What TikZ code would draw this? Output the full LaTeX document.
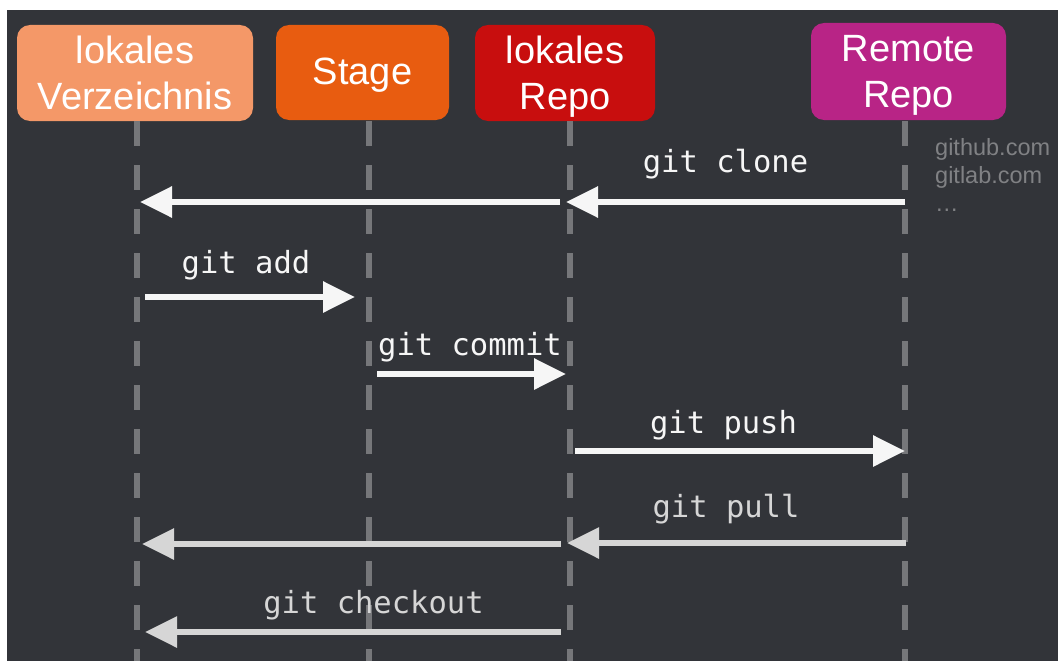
\documentclass[tikz,border=0pt]{standalone}
\usepackage{fontspec}
\setmainfont{Liberation Sans}
\newfontfamily\codefont{DejaVu Sans Mono}
\usetikzlibrary{arrows.meta}
\definecolor{bgdark}{RGB}{50,52,57}
\definecolor{cverz}{RGB}{244,152,104}
\definecolor{cstage}{RGB}{232,92,16}
\definecolor{crepo}{RGB}{200,14,14}
\definecolor{cremote}{RGB}{184,36,134}
\definecolor{lifegray}{RGB}{118,119,122}
\definecolor{arrwhite}{RGB}{246,246,246}
\definecolor{arrgray}{RGB}{214,214,214}
\definecolor{sidegray}{RGB}{128,129,132}
\tikzset{
  box/.style={draw=none, rounded corners=13pt, inner sep=0pt, text=white, align=center,
    font=\fontsize{38}{46}\selectfont},
  lifeline/.style={draw=lifegray, line width=6pt, dash pattern=on 25pt off 19pt},
  msg/.style={draw=arrwhite, line width=6pt, -{Triangle[length=32pt,width=30pt,fill=arrwhite]}},
  msggray/.style={draw=arrgray, line width=6pt, -{Triangle[length=32pt,width=30pt,fill=arrgray]}},
  cmd/.style={anchor=base, inner sep=0pt, text=arrwhite, font=\codefont\fontsize{30.5}{36}\selectfont},
  cmdgray/.style={cmd, text=arrgray},
  side/.style={anchor=base west, inner sep=0pt, text=sidegray, font=\fontsize{23.5}{28}\selectfont}
}
\begin{document}
\begin{tikzpicture}[x=1pt,y=-1pt]
\useasboundingbox (0,0) rectangle (1058,661);
\fill[white] (0,0) rectangle (1058,661);
\fill[bgdark] (7,10) rectangle (1058,661);

% boxes
\node[box, fill=cverz, minimum width=236pt, minimum height=96pt] (verz) at (135,73) {lokales\\Verzeichnis};
\node[box, fill=cstage, minimum width=173pt, minimum height=95pt, text height=27pt, text depth=3pt] (stage) at (362.5,72.5) {Stage};
\node[box, fill=crepo, minimum width=180pt, minimum height=96pt, text depth=0pt] (repo) at (565,73) {lokales\\Repo};
\node[box, fill=cremote, minimum width=195pt, minimum height=97pt, text depth=0pt] (remote) at (908.5,71.5) {Remote\\Repo};

% lifeline coordinates
\coordinate (l1) at (137,121);
\coordinate (l2) at (369,121);
\coordinate (l3) at (570,121);
\coordinate (l4) at (905,121);
\coordinate (e1) at (137,661);
\coordinate (e2) at (369,661);
\coordinate (e3) at (570,661);
\coordinate (e4) at (905,661);
\draw[lifeline] (l1) -- (e1);
\draw[lifeline] (l2) -- (e2);
\draw[lifeline] (l3) -- (e3);
\draw[lifeline] (l4) -- (e4);

% side text
\node[side] (gh) at (935,155) {github.com};
\node[side] (gl) at (935,183) {gitlab.com};
\node[side] (dots) at (935,211) {\dots};

% arrow end points
\coordinate (clA) at (905,202);
\coordinate (clB) at (566,202);
\coordinate (clC) at (560,202);
\coordinate (clD) at (140,202);
\coordinate (adA) at (145,297);
\coordinate (adB) at (355,297);
\coordinate (coA) at (377,374);
\coordinate (coB) at (566,374);
\coordinate (puA) at (575,451);
\coordinate (puB) at (905,451);
\coordinate (plA) at (906,543);
\coordinate (plB) at (567,543);
\coordinate (plC) at (561,544);
\coordinate (plD) at (142,544);
\coordinate (chA) at (561,632);
\coordinate (chB) at (145,632);

\draw[msg] (clA) -- (clB);
\draw[msg] (clC) -- (clD);
\draw[msg] (adA) -- (adB);
\draw[msg] (coA) -- (coB);
\draw[msg] (puA) -- (puB);
\draw[msggray] (plA) -- (plB);
\draw[msggray] (plC) -- (plD);
\draw[msggray] (chA) -- (chB);

% labels
\node[cmd] (tclone) at (725.5,172) {git clone};
\node[cmd] (tadd) at (246,273) {git add};
\node[cmd] (tcommit) at (470,355) {git commit};
\node[cmd] (tpush) at (723.5,433) {git push};
\node[cmdgray] (tpull) at (726,517) {git pull};
\node[cmdgray] (tcheckout) at (373.5,613) {git checkout};
\end{tikzpicture}
\end{document}
